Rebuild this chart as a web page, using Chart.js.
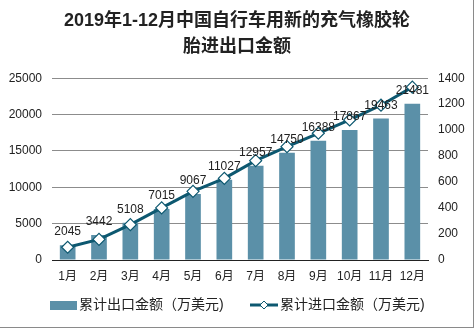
<!DOCTYPE html>
<html>
<head>
<meta charset="utf-8">
<script src="https://cdn.jsdelivr.net/npm/chart.js@4"></script>
<style>
  html, body { margin: 0; padding: 0; background: #fff; }
  #wrap { position: relative; width: 474px; height: 328px; box-sizing: border-box; border-right: 1px solid #8a8a8a; border-bottom: 1px solid #8a8a8a; }
</style>
</head>
<body>
<div id="wrap"><canvas id="myChart" width="474" height="328"></canvas></div>
<script>
const months = ["1月", "2月", "3月", "4月", "5月", "6月", "7月", "8月", "9月", "10月", "11月", "12月"];
const exportValues = [2045, 3442, 5108, 7015, 9067, 11027, 12957, 14750, 16388, 17867, 19463, 21481];
const importValues = [98, 159, 272, 401, 529, 629, 765, 873, 976, 1079, 1192, 1331];
const titleLines = ["2019年1-12月中国自行车用新的充气橡胶轮", "胎进出口金额"];
const exportLabel = "累计出口金额（万美元)";
const importLabel = "累计进口金额（万美元)";

const barColor = "#5b90a8";
const lineColor = "#0d5870";
const fontFamily = "'Liberation Sans', 'Noto Sans CJK SC', sans-serif";

// value labels above the bars
const barLabels = {
  id: "barLabels",
  afterDatasetsDraw(chart) {
    const ctx = chart.ctx;
    const meta = chart.getDatasetMeta(1);
    ctx.save();
    ctx.font = "12px " + fontFamily;
    ctx.fillStyle = "#222";
    ctx.textAlign = "center";
    ctx.textBaseline = "middle";
    meta.data.forEach(function (bar, i) {
      ctx.fillText(String(exportValues[i]), bar.x, bar.y - 13);
    });
    ctx.restore();
  },
};

// legend at the bottom: wide swatch for bars, line with diamond for the line
const customLegend = {
  id: "customLegend",
  afterDraw(chart) {
    const ctx = chart.ctx;
    const y = 305;
    ctx.save();
    ctx.font = "14px " + fontFamily;
    ctx.textBaseline = "middle";
    ctx.fillStyle = barColor;
    ctx.fillRect(50, y - 4, 27, 9);
    ctx.fillStyle = "#222";
    ctx.fillText(exportLabel, 79, y);

    ctx.strokeStyle = lineColor;
    ctx.lineWidth = 3;
    ctx.beginPath();
    ctx.moveTo(250, y);
    ctx.lineTo(278, y);
    ctx.stroke();
    ctx.lineWidth = 1;
    ctx.fillStyle = "#fff";
    ctx.beginPath();
    ctx.moveTo(264, y - 4);
    ctx.lineTo(268, y);
    ctx.lineTo(264, y + 4);
    ctx.lineTo(260, y);
    ctx.closePath();
    ctx.fill();
    ctx.stroke();
    ctx.fillStyle = "#222";
    ctx.fillText(importLabel, 280, y);
    ctx.restore();
  },
};

const plainTick = function (value) { return String(value); };

const ctx = document.getElementById("myChart");
new Chart(ctx, {
  data: {
    labels: months,
    datasets: [
      {
        type: "line",
        label: importLabel,
        data: importValues,
        yAxisID: "y1",
        borderColor: lineColor,
        borderWidth: 3,
        pointStyle: "rectRot",
        pointRadius: 6,
        pointBorderWidth: 1.2,
        pointBackgroundColor: "#fff",
        pointBorderColor: lineColor,
        tension: 0,
        order: 1,
      },
      {
        type: "bar",
        label: exportLabel,
        data: exportValues,
        yAxisID: "y",
        backgroundColor: barColor,
        barPercentage: 0.5,
        categoryPercentage: 1,
        order: 2,
      },
    ],
  },
  options: {
    responsive: false,
    animation: false,
    layout: { padding: { left: 0, right: 0, top: 0, bottom: 38 } },
    plugins: {
      legend: { display: false },
      tooltip: { enabled: false },
      title: {
        display: true,
        text: titleLines,
        color: "#222",
        font: { size: 18, weight: "bold", family: fontFamily, lineHeight: 1.45 },
        padding: { top: 8, bottom: 18 },
      },
    },
    scales: {
      x: {
        grid: { display: false, drawTicks: false },
        border: { color: "#222", width: 1 },
        ticks: { color: "#222", font: { size: 12, family: fontFamily }, padding: 9, maxRotation: 0 },
        afterFit(scale) { scale.height = 30; },
      },
      y: {
        position: "left",
        min: 0,
        max: 25000,
        ticks: { stepSize: 5000, color: "#222", font: { size: 12, family: fontFamily }, padding: 10, callback: plainTick },
        grid: { color: "#8c8c8c", drawTicks: false },
        border: { display: false },
        afterFit(scale) { scale.width = 52; },
      },
      y1: {
        position: "right",
        min: 0,
        max: 1400,
        ticks: { stepSize: 200, color: "#222", font: { size: 12, family: fontFamily }, padding: 10, callback: plainTick },
        grid: { display: false, drawTicks: false },
        border: { display: false },
        afterFit(scale) { scale.width = 46; },
      },
    },
  },
  plugins: [barLabels, customLegend],
});
</script>
</body>
</html>
